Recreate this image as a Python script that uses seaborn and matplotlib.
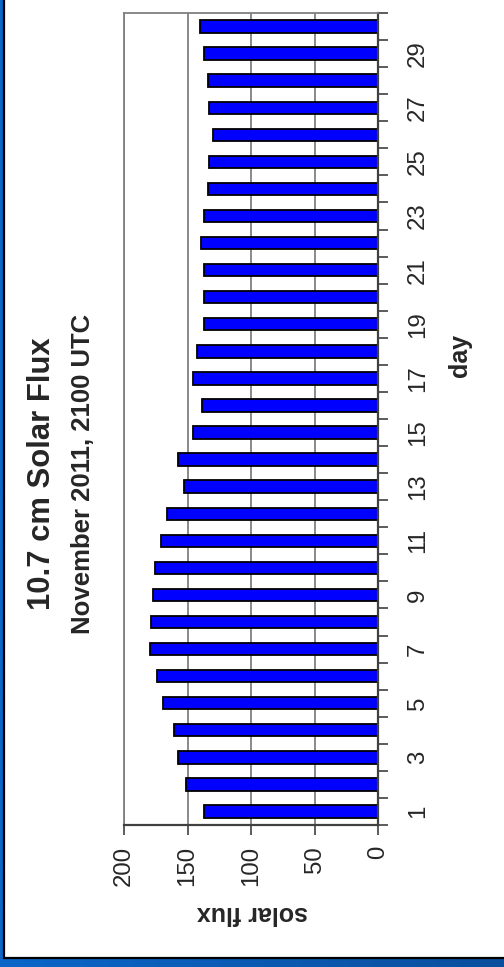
import numpy as np
import pandas as pd
import seaborn as sns
import matplotlib.pyplot as plt
from matplotlib.patches import Rectangle
from matplotlib.colors import LinearSegmentedColormap

# Daily 10.7 cm solar flux, November 2011 (2100 UTC readings)
days = list(range(1, 31))
flux = [137.4, 151.3, 157.7, 160.8, 169.0, 173.7, 179.5, 178.4, 176.9, 175.3,
        170.5, 166.0, 152.9, 157.7, 145.3, 138.7, 145.6, 142.4, 137.4, 137.4,
        137.4, 139.0, 137.4, 134.2, 132.9, 130.0, 132.9, 134.2, 137.4, 140.5]
flux_ticks = [0, 50, 100, 150, 200]
labelled_days = [d for d in days if d % 2 == 1]

title = "10.7 cm Solar Flux"
subtitle = "November 2011, 2100 UTC"
day_label = "day"
flux_label = "solar flux"

sns.set_style("white")
plt.rcParams["font.family"] = ["Liberation Sans", "DejaVu Sans"]

W, H = 504, 967
fig = plt.figure(figsize=(W / 100, H / 100), dpi=100)

# blue slide background with a white card on top
bg = fig.add_axes([0, 0, 1, 1], zorder=-1)
cmap = LinearSegmentedColormap.from_list("slide", ["#0b66c8", "#0a4f9e"])
bg.imshow(np.linspace(0, 1, 256)[None, :], cmap=cmap, aspect="auto",
          extent=[0, 1, 0, 1])
bg.add_patch(Rectangle((3.5 / W, 1 - 957.5 / H), 1.2, 1.2,
                       transform=bg.transAxes, facecolor="white",
                       edgecolor="black", linewidth=1.6))
bg.set_xlim(0, 1)
bg.set_ylim(0, 1)
bg.axis("off")

# plot area (chart drawn turned a quarter-turn: days run upward, flux runs left)
left, right, top, bottom = 124, 378, 13, 825
ax = fig.add_axes([left / W, 1 - bottom / H, (right - left) / W, (bottom - top) / H])
ax.set_facecolor("white")

df = pd.DataFrame({"day": days, "flux": flux})
order = days[::-1]
sns.barplot(data=df, x="flux", y="day", order=order, orient="h",
            color="#0000ff", saturation=1, width=0.46,
            edgecolor="black", linewidth=1.3, ax=ax)

ax.set_xlim(200, 0)
ax.set_ylim(len(days) - 0.5, -0.5)
ax.set_xlabel("")
ax.set_ylabel("")

# flux axis
ax.set_xticks(flux_ticks, labels=[str(v) for v in flux_ticks])
ax.xaxis.grid(True, color="#808080", linewidth=1.3)
ax.yaxis.grid(False)
ax.set_axisbelow(True)
ax.tick_params(axis="x", which="major", direction="out", length=7, width=1.2,
               color="#404040", pad=8, labelsize=17.3, labelrotation=90,
               bottom=True)

# day axis on the right, ticks between categories, labels on odd days
ax.yaxis.tick_right()
ax.set_yticks(np.arange(-0.5, len(days), 1.0), labels=[])
ax.set_yticks([order.index(d) for d in labelled_days],
              labels=[str(d) for d in labelled_days], minor=True)
ax.tick_params(axis="y", which="major", direction="out", length=7, width=1.2,
               color="#404040", right=True, left=False)
ax.tick_params(axis="y", which="minor", length=0, pad=21, labelsize=17.3,
               labelrotation=90, right=True, left=False)
for lbl in ax.get_yticklabels(minor=True):
    lbl.set_verticalalignment("center")
    lbl.set_horizontalalignment("left")

for side in ("top", "left"):
    ax.spines[side].set_color("#808080")
    ax.spines[side].set_linewidth(1.3)
for side in ("right", "bottom"):
    ax.spines[side].set_color("#404040")
    ax.spines[side].set_linewidth(1.6)

# titles and axis names
fig.text(42 / W, 1 - 474 / H, title, rotation=90, ha="center", va="center",
         fontsize=22.3, fontweight="bold")
fig.text(83 / W, 1 - 474 / H, subtitle, rotation=90, ha="center", va="center",
         fontsize=18.5, fontweight="bold")
fig.text(460 / W, 1 - 355 / H, day_label, rotation=90, ha="center", va="center",
         fontsize=18, fontweight="bold")
fig.text(252 / W, 1 - 913 / H, flux_label, rotation=180, ha="center",
         va="center", fontsize=18, fontweight="bold")

fig.savefig("out.png", dpi=100)
